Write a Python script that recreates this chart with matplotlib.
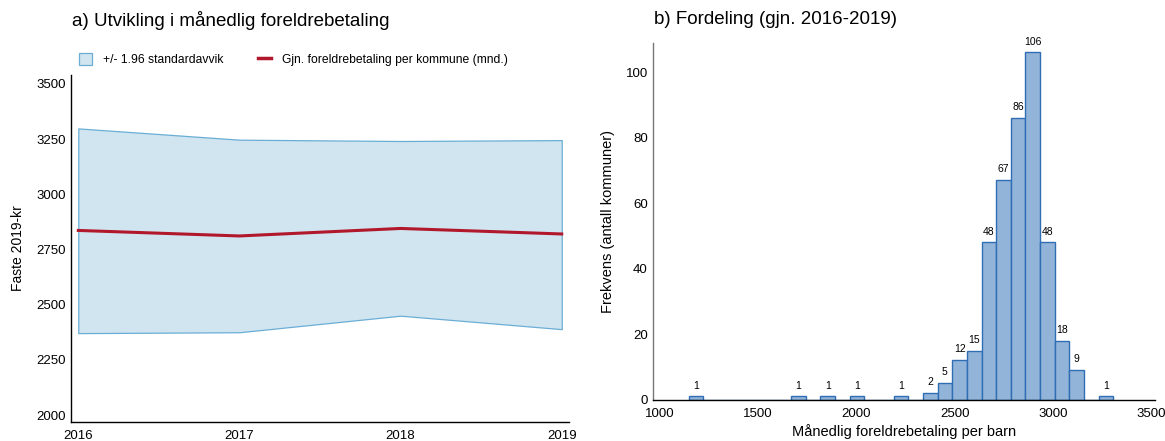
import matplotlib
matplotlib.use("Agg")
import matplotlib.pyplot as plt
import numpy as np
from matplotlib.patches import Patch
from matplotlib.lines import Line2D

plt.rcParams['font.family'] = ['Liberation Sans', 'DejaVu Sans']

# ---- data: panel a ----
years = [2016, 2017, 2018, 2019]
upper = [3298, 3247, 3241, 3245]
lower = [2371, 2375, 2450, 2389]
mean = [2836, 2811, 2845, 2820]
yticks_a = [2000, 2250, 2500, 2750, 3000, 3250, 3500]

# ---- data: panel b ----
data_min, data_max = 1146, 3308
counts = [1, 0, 0, 0, 0, 0, 0, 1, 0, 1, 0, 1, 0, 0, 1, 0, 2, 5, 12, 15,
          48, 67, 86, 106, 48, 18, 9, 0, 1]
xticks_b = [1000, 1500, 2000, 2500, 3000, 3500]
yticks_b = [0, 20, 40, 60, 80, 100]

bin_edges = np.linspace(data_min, data_max, len(counts) + 1)

fig = plt.figure(figsize=(11.65, 4.41), dpi=100)

# ---- panel a ----
ax1 = fig.add_axes([0.0607, 0.0438, 0.4277, 0.7862])
band_face = '#d1e5f0'
band_edge = '#6aaed6'
red = '#b2182b'
ax1.fill_between(years, lower, upper, facecolor=band_face, edgecolor=band_edge, linewidth=0.9)
ax1.plot(years, mean, color=red, linewidth=2.2)
ax1.set_xlim(2015.953, 2019.045)
ax1.set_ylim(1970, 3540)
ax1.set_xticks(years)
ax1.set_yticks(yticks_a)
ax1.tick_params(length=0, labelsize=9.5, colors='black')
ax1.tick_params(axis='x', pad=6)
for s in ['top', 'right']:
    ax1.spines[s].set_visible(False)
for s in ['left', 'bottom']:
    ax1.spines[s].set_linewidth(1.0)
    ax1.spines[s].set_color('black')
ax1.set_ylabel('Faste 2019-kr', fontsize=10, labelpad=8)
fig.text(72 / 1165, 1 - 20 / 441, 'a) Utvikling i månedlig foreldrebetaling',
         ha='left', va='center', fontsize=13.5)
handles = [Patch(facecolor=band_face, edgecolor=band_edge, linewidth=0.9),
           Line2D([0], [0], color=red, linewidth=2.5)]
ax1.legend(handles, ['+/- 1.96 standardavvik', 'Gjn. foreldrebetaling per kommune (mnd.)'],
           loc='center left', bbox_to_anchor=(-0.005, 1.045), ncol=2, frameon=False,
           fontsize=8.7, handlelength=1.1, handleheight=1.1, columnspacing=2.9, handletextpad=0.85)

# ---- panel b ----
ax2 = fig.add_axes([0.5603, 0.0937, 0.4311, 0.8081])
widths = np.diff(bin_edges)
bars = ax2.bar(bin_edges[:-1], counts, width=widths, align='edge',
               color='#92b4d9', edgecolor='#2f6db5', linewidth=1.0)
for left, w, c in zip(bin_edges[:-1], widths, counts):
    if c > 0:
        ax2.text(left + w / 2, c + 1.8, str(c), ha='center', va='bottom', fontsize=7.5)
ax2.set_xlim(963, 3520)
ax2.set_ylim(0, 108.8)
ax2.set_xticks(xticks_b)
ax2.set_yticks(yticks_b)
ax2.tick_params(length=0, labelsize=9.5, colors='black')
ax2.tick_params(axis='x', pad=6)
for s in ['top', 'right']:
    ax2.spines[s].set_visible(False)
ax2.spines['left'].set_color('#777777')
ax2.spines['left'].set_linewidth(1.0)
ax2.spines['bottom'].set_color('black')
ax2.spines['bottom'].set_linewidth(1.0)
ax2.set_xlabel('Månedlig foreldrebetaling per barn', fontsize=10.5, labelpad=3)
ax2.set_ylabel('Frekvens (antall kommuner)', fontsize=10.5, labelpad=8)
fig.text(654 / 1165, 1 - 20 / 441, 'b) Fordeling (gjn. 2016-2019)',
         ha='left', va='center', fontsize=13.5)

fig.savefig('out.png', dpi=100)
